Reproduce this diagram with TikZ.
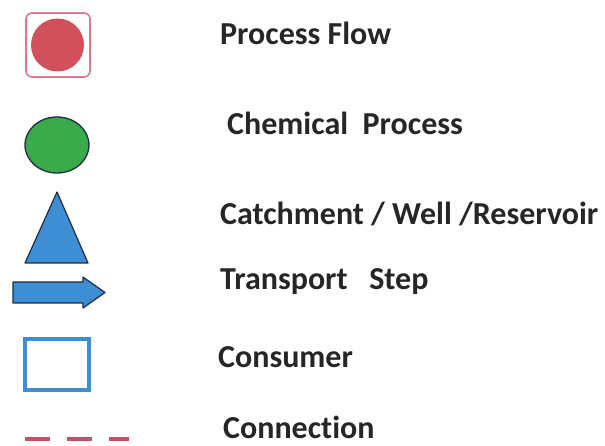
\documentclass[tikz,border=0pt]{standalone}
\usepackage{fontspec}
\setmainfont{Carlito}[Ligatures=NoCommon]
\usetikzlibrary{shapes.geometric,shapes.arrows}
\definecolor{flowred}{HTML}{D2505C}
\definecolor{flowedge}{HTML}{E0788A}
\definecolor{chemgreen}{HTML}{3AAA4A}
\definecolor{iconblue}{HTML}{3D8ED2}
\definecolor{darkedge}{HTML}{1E2E40}
\definecolor{linkred}{HTML}{C84E66}
\definecolor{labelgray}{HTML}{262626}
\tikzset{
  legendlabel/.style={anchor=base west, inner sep=0pt, text=labelgray,
    font=\fontsize{32}{36}\selectfont\bfseries},
}
\begin{document}
\begin{tikzpicture}[x=1pt,y=-1pt]
  \useasboundingbox (0,0) rectangle (605,446);
  \fill[white] (0,0) rectangle (605,446);

  % process flow: red disc inside a rounded frame
  \draw[flowedge, line width=1.6pt, rounded corners=6pt] (26,13) rectangle (90,77);
  \fill[flowred] (57.5,45) circle (26.5);
  \node[legendlabel] (lflow) at (220,45) {Process Flow};

  % chemical process: green disc
  \draw[darkedge, fill=chemgreen, line width=1.3pt] (57,145) ellipse (32 and 28);
  \node[legendlabel] (lchem) at (227,135) {Chemical\ \ Process};

  % catchment / well / reservoir: triangle
  \draw[darkedge, fill=iconblue, line width=1.2pt, line join=round]
    (57,192) -- (88,263) -- (25,263) -- cycle;
  \node[legendlabel] (lcatch) at (220,225) {Catchment / Well /Reservoir};

  % transport step: block arrow
  \draw[darkedge, fill=iconblue, line width=1.2pt, line join=round]
    (13,282) -- (83,282) -- (83,277) -- (105,292.5) -- (83,308) -- (83,303) -- (13,303) -- cycle;
  \node[legendlabel] (ltrans) at (220,290) {Transport\ \ \ Step};

  % consumer: open square
  \draw[iconblue, line width=4pt] (25,339) rectangle (89,390);
  \node[legendlabel] (lcons) at (218,367) {Consumer};

  % connection: dashed line
  \coordinate (dstart) at (25,439);
  \coordinate (dend) at (129,439);
  \draw[linkred, line width=4pt, dash pattern=on 25pt off 17pt] (dstart) -- (dend);
  \node[legendlabel] (lconn) at (223,438) {Connection};
\end{tikzpicture}
\end{document}
